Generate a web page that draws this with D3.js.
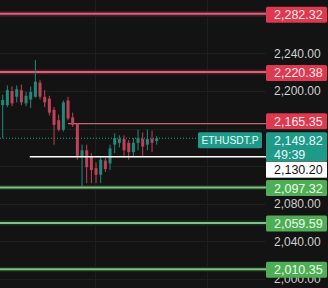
<!DOCTYPE html>
<html><head><meta charset="utf-8">
<script src="https://cdn.jsdelivr.net/npm/d3@7"></script>
<style>html,body{margin:0;padding:0;background:#131313;overflow:hidden}</style>
</head><body><svg id="c" width="328" height="288"></svg>
<script>
// ---- data ----
const opens  = [2185,2185,2200,2194,2201,2187,2191,2194,2209,2194,2192,2180,2169,2159,2190,2172,2165,2130,2137,2130,2118,2111,2126,2123,2143,2145,2149,2145,2135,2145,2149,2143,2149,2147];
const highs  = [2196,2206,2205,2206,2207,2199,2205,2233,2212,2201,2195,2183,2175,2190,2194,2177,2166,2143,2143,2134,2124,2130,2129,2143,2155,2153,2153,2148,2150,2159,2156,2159,2158,2152];
const lows   = [2150,2183,2184,2188,2185,2184,2182,2193,2191,2183,2174,2143,2157,2157,2169,2162,2127,2098,2102,2102,2102,2102,2114,2116,2134,2140,2129,2127,2130,2137,2130,2137,2135,2143];
const closes = [2190.5,2201,2187,2202,2188,2195,2199,2210,2194,2188,2177,2164,2159,2188,2171,2164,2130,2137,2119,2116,2111,2127,2117,2139,2150,2149,2137,2135,2145,2150,2141,2149,2145,2149.82];
const axisTicks = [2000,2040,2080,2200,2240];
const gridTicks = [2000,2040,2080,2120,2160,2200,2240,2280];
const resistance = [2282.32,2220.38];
const minorResistance = [2165.35];
const support = [2097.32,2059.59,2010.35];
const lastPrice = 2149.82;
const countdown = "49:39";
const symbol = "ETHUSDT.P";
const whiteLevel = 2130.20;
const vGridIdx = [19.75,43.75];

// ---- scales ----
const W = 328, H = 288, axisX = 266;
const y = d3.scaleLinear().domain([1990.5,2296.9]).range([H,0]);
const x = d3.scaleLinear().domain([0,33]).range([2.7,156.7]);
const fmt = d3.format(",.2f");
const svg = d3.select("#c");
svg.append("rect").attr("width",W).attr("height",H).attr("fill","#131313");

// grid
svg.append("g").selectAll("line").data(gridTicks).join("line")
  .attr("x1",0).attr("x2",axisX).attr("y1",d=>Math.round(y(d))+0.5).attr("y2",d=>Math.round(y(d))+0.5)
  .attr("stroke","#1f1f1f").attr("stroke-width",1);
svg.append("g").selectAll("line").data(vGridIdx).join("line")
  .attr("x1",d=>Math.round(x(d))+0.5).attr("x2",d=>Math.round(x(d))+0.5).attr("y1",0).attr("y2",H)
  .attr("stroke","#1f1f1f").attr("stroke-width",1);

// horizontal levels
const lv = svg.append("g");
resistance.forEach(v=>{
  lv.append("line").attr("x1",0).attr("x2",axisX).attr("y1",y(v)).attr("y2",y(v)).attr("stroke","#4a1820").attr("stroke-width",5);
  lv.append("line").attr("x1",0).attr("x2",axisX).attr("y1",y(v)).attr("y2",y(v)).attr("stroke","#d9627a").attr("stroke-width",2);
});
minorResistance.forEach(v=>{
  lv.append("line").attr("x1",x(14)).attr("x2",axisX).attr("y1",y(v)).attr("y2",y(v)).attr("stroke","#b96a76").attr("stroke-width",1.3);
});
support.forEach(v=>{
  lv.append("line").attr("x1",0).attr("x2",axisX).attr("y1",y(v)).attr("y2",y(v)).attr("stroke","#173018").attr("stroke-width",5);
  lv.append("line").attr("x1",0).attr("x2",axisX).attr("y1",y(v)).attr("y2",y(v)).attr("stroke","#85bf87").attr("stroke-width",2);
});
lv.append("line").attr("x1",0).attr("x2",198).attr("y1",y(lastPrice)).attr("y2",y(lastPrice))
  .attr("stroke","#2a9d8c").attr("stroke-width",1).attr("stroke-dasharray","1,2");

// candles
const idx = d3.range(opens.length);
const cg = svg.append("g");
const col = i => closes[i] >= opens[i] ? "#22897a" : "#c04258";
cg.selectAll("line").data(idx).join("line")
  .attr("x1",i=>x(i)).attr("x2",i=>x(i)).attr("y1",i=>y(highs[i])).attr("y2",i=>y(lows[i]))
  .attr("stroke",col).attr("stroke-width",1);
cg.selectAll("rect").data(idx).join("rect")
  .attr("x",i=>x(i)-1.5).attr("width",3)
  .attr("y",i=>y(Math.max(opens[i],closes[i])))
  .attr("height",i=>Math.max(1,Math.abs(y(opens[i])-y(closes[i]))))
  .attr("fill",col);

// white level
svg.append("line").attr("x1",x(5.8)).attr("x2",axisX).attr("y1",y(whiteLevel)).attr("y2",y(whiteLevel))
  .attr("stroke","#ffffff").attr("stroke-width",1.5);

// axis labels
const font = "'Liberation Sans', Arial, sans-serif";
svg.append("g").selectAll("text").data(axisTicks).join("text")
  .attr("x",274).attr("y",d=>y(d)).attr("dy","0.35em")
  .attr("font-family",font).attr("font-size",12).attr("fill","#cfcfcf")
  .text(d=>fmt(d));

// level label boxes
function box(cy, fill, txt, tcol, h){
  h = h||16;
  svg.append("rect").attr("x",axisX).attr("y",cy-h/2).attr("width",61).attr("height",h).attr("rx",1.5).attr("fill",fill);
  svg.append("text").attr("x",274).attr("y",cy).attr("dy","0.36em").attr("font-family",font).attr("font-size",12.5)
    .attr("fill",tcol).text(txt);
}
resistance.forEach(v=>box(y(v)+1,"#dd3a50",fmt(v),"#ffe6ea"));
minorResistance.forEach(v=>box(y(v)-2.5,"#dd3a50",fmt(v),"#ffe6ea"));
support.forEach(v=>box(y(v)+0.5,"#4fae55",fmt(v),"#eaffea"));

// last price box
const ly = y(lastPrice);
svg.append("rect").attr("x",axisX).attr("y",ly-6).attr("width",61).attr("height",29).attr("rx",1.5).attr("fill","#1f9a88");
svg.append("text").attr("x",274).attr("y",ly+2).attr("dy","0.36em").attr("font-family",font).attr("font-size",12.5).attr("fill","#e6fffb").text(fmt(lastPrice));
svg.append("text").attr("x",274).attr("y",ly+16).attr("dy","0.36em").attr("font-family",font).attr("font-size",12.5).attr("fill","#e6fffb").text(countdown);
svg.append("rect").attr("x",198).attr("y",ly-6).attr("width",64).attr("height",16).attr("rx",1.5).attr("fill","#1f9a88");
svg.append("text").attr("x",230).attr("y",ly+2).attr("dy","0.36em").attr("text-anchor","middle").attr("font-family",font).attr("font-size",11.5)
  .attr("textLength",57).attr("lengthAdjust","spacingAndGlyphs").attr("fill","#e6fffb").text(symbol);

// white level box
const wy = y(whiteLevel) + 13;
svg.append("rect").attr("x",axisX).attr("y",wy-8).attr("width",61).attr("height",16).attr("fill","#ffffff");
svg.append("text").attr("x",274).attr("y",wy).attr("dy","0.36em").attr("font-family",font).attr("font-size",12.5).attr("fill","#111").text(fmt(whiteLevel));
</script></body></html>
